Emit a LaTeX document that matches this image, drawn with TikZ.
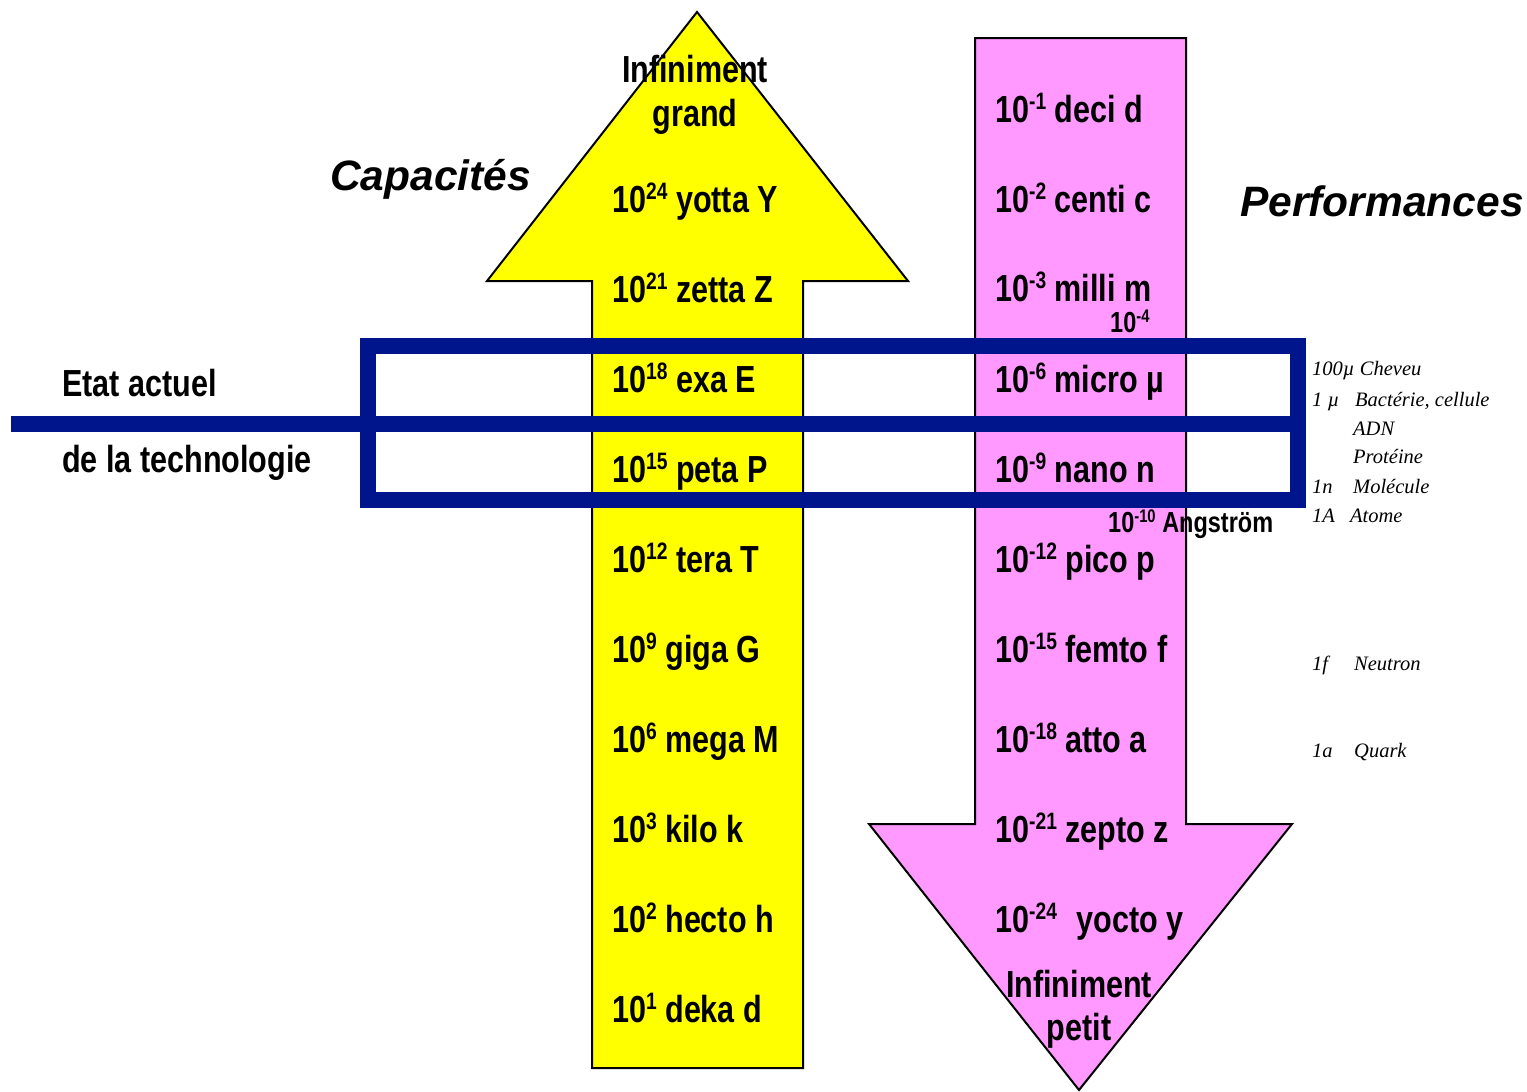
\documentclass[tikz,border=0pt]{standalone}
\usepackage{fontspec}
\setmainfont{Liberation Sans}
\newfontfamily\narrowfont[FakeStretch=0.81]{Liberation Sans}
\newfontfamily\notefont{Liberation Serif}
\newcommand{\ex}[1]{\raisebox{0.32em}{\scalebox{0.63}{#1}}}
\definecolor{capyellow}{RGB}{255,255,0}
\definecolor{perfpink}{RGB}{255,153,255}
\definecolor{techblue}{RGB}{0,20,140}
\tikzset{
  unitlbl/.style={anchor=base west,inner sep=0pt,font=\narrowfont\bfseries\fontsize{37.7}{40}\selectfont},
  smallunit/.style={unitlbl,font=\narrowfont\bfseries\fontsize{29}{31}\selectfont},
  endlbl/.style={unitlbl,anchor=base},
  sidetitle/.style={anchor=base west,inner sep=0pt,font=\bfseries\itshape\fontsize{42.5}{44}\selectfont},
  notelbl/.style={anchor=base west,inner sep=0pt,font=\notefont\itshape\fontsize{20.5}{22}\selectfont},
}
\begin{document}
\begin{tikzpicture}[x=1pt,y=-1pt]
  \useasboundingbox (0,0) rectangle (1527,1092);
  % arrow up (capacites)
  \fill[capyellow,draw=black,line width=2pt,line join=miter] (592,1068) -- (592,281) -- (487,281) -- (697,12) -- (908,281) -- (803,281) -- (803,1068) -- cycle;
  % arrow down (performances)
  \fill[perfpink,draw=black,line width=2pt,line join=miter] (975,38) -- (1186,38) -- (1186,824) -- (1292,824) -- (1079,1090) -- (869,824) -- (975,824) -- cycle;
  % current state of technology
  \draw[techblue,line width=16pt,line join=miter] (368,346) rectangle (1298,500);
  \draw[techblue,line width=16pt] (11,424) -- (1298,424);
  % titles
  \node[sidetitle] (capa) at (330,190) {Capacités};
  \node[sidetitle] (perf) at (1240,216) {Performances};
  \node[unitlbl] (etat) at (62,396) {Etat actuel};
  \node[unitlbl] (techno) at (62,472) {de la technologie};
  % big prefixes
  \node[endlbl] (grand1) at (695,82) {Infiniment};
  \node[endlbl] (grand2) at (695,126) {grand};
  \node[unitlbl] (yotta) at (612,212) {10\ex{24} yotta Y};
  \node[unitlbl] (zetta) at (612,302) {10\ex{21} zetta Z};
  \node[unitlbl] (exa) at (612,392) {10\ex{18} exa E};
  \node[unitlbl] (peta) at (612,482) {10\ex{15} peta P};
  \node[unitlbl] (tera) at (612,572) {10\ex{12} tera T};
  \node[unitlbl] (giga) at (612,662) {10\ex{9} giga G};
  \node[unitlbl] (mega) at (612,752) {10\ex{6} mega M};
  \node[unitlbl] (kilo) at (612,842) {10\ex{3} kilo k};
  \node[unitlbl] (hecto) at (612,932) {10\ex{2} hecto h};
  \node[unitlbl] (deka) at (612,1022) {10\ex{1} deka d};
  % small prefixes
  \node[unitlbl] (deci) at (995,122) {10\ex{-1} deci d};
  \node[unitlbl] (centi) at (995,212) {10\ex{-2} centi c};
  \node[unitlbl] (milli) at (995,301) {10\ex{-3} milli m};
  \node[smallunit] (minus4) at (1110,332) {10\ex{-4}};
  \node[unitlbl] (micro) at (995,392) {10\ex{-6} micro µ};
  \node[unitlbl] (nano) at (995,482) {10\ex{-9} nano n};
  \node[smallunit] (angstrom) at (1108,532) {10\ex{-10} Angström};
  \node[unitlbl] (pico) at (995,572) {10\ex{-12} pico p};
  \node[unitlbl] (femto) at (995,662) {10\ex{-15} femto f};
  \node[unitlbl] (atto) at (995,752) {10\ex{-18} atto a};
  \node[unitlbl] (zepto) at (995,842) {10\ex{-21} zepto z};
  \node[unitlbl] (yocto) at (995,932) {10\ex{-24}\hspace{0.3em} yocto y};
  \node[endlbl] (petit1) at (1079,997) {Infiniment};
  \node[endlbl] (petit2) at (1079,1040) {petit};
  % sizes of things
  \node[notelbl] (cheveu) at (1312,375) {100µ Cheveu};
  \node[notelbl] (unmu) at (1312,406) {1 µ};
  \node[notelbl] (bacterie) at (1355,406) {Bactérie, cellule};
  \node[notelbl] (adn) at (1353,435) {ADN};
  \node[notelbl] (proteine) at (1353,463) {Protéine};
  \node[notelbl] (unn) at (1312,493) {1n};
  \node[notelbl] (molecule) at (1353,493) {Molécule};
  \node[notelbl] (una) at (1312,522) {1A};
  \node[notelbl] (atome) at (1350,522) {Atome};
  \node[notelbl] (unf) at (1312,670) {1f};
  \node[notelbl] (neutron) at (1354,670) {Neutron};
  \node[notelbl] (unatto) at (1312,757) {1a};
  \node[notelbl] (quark) at (1354,757) {Quark};
\end{tikzpicture}
\end{document}
